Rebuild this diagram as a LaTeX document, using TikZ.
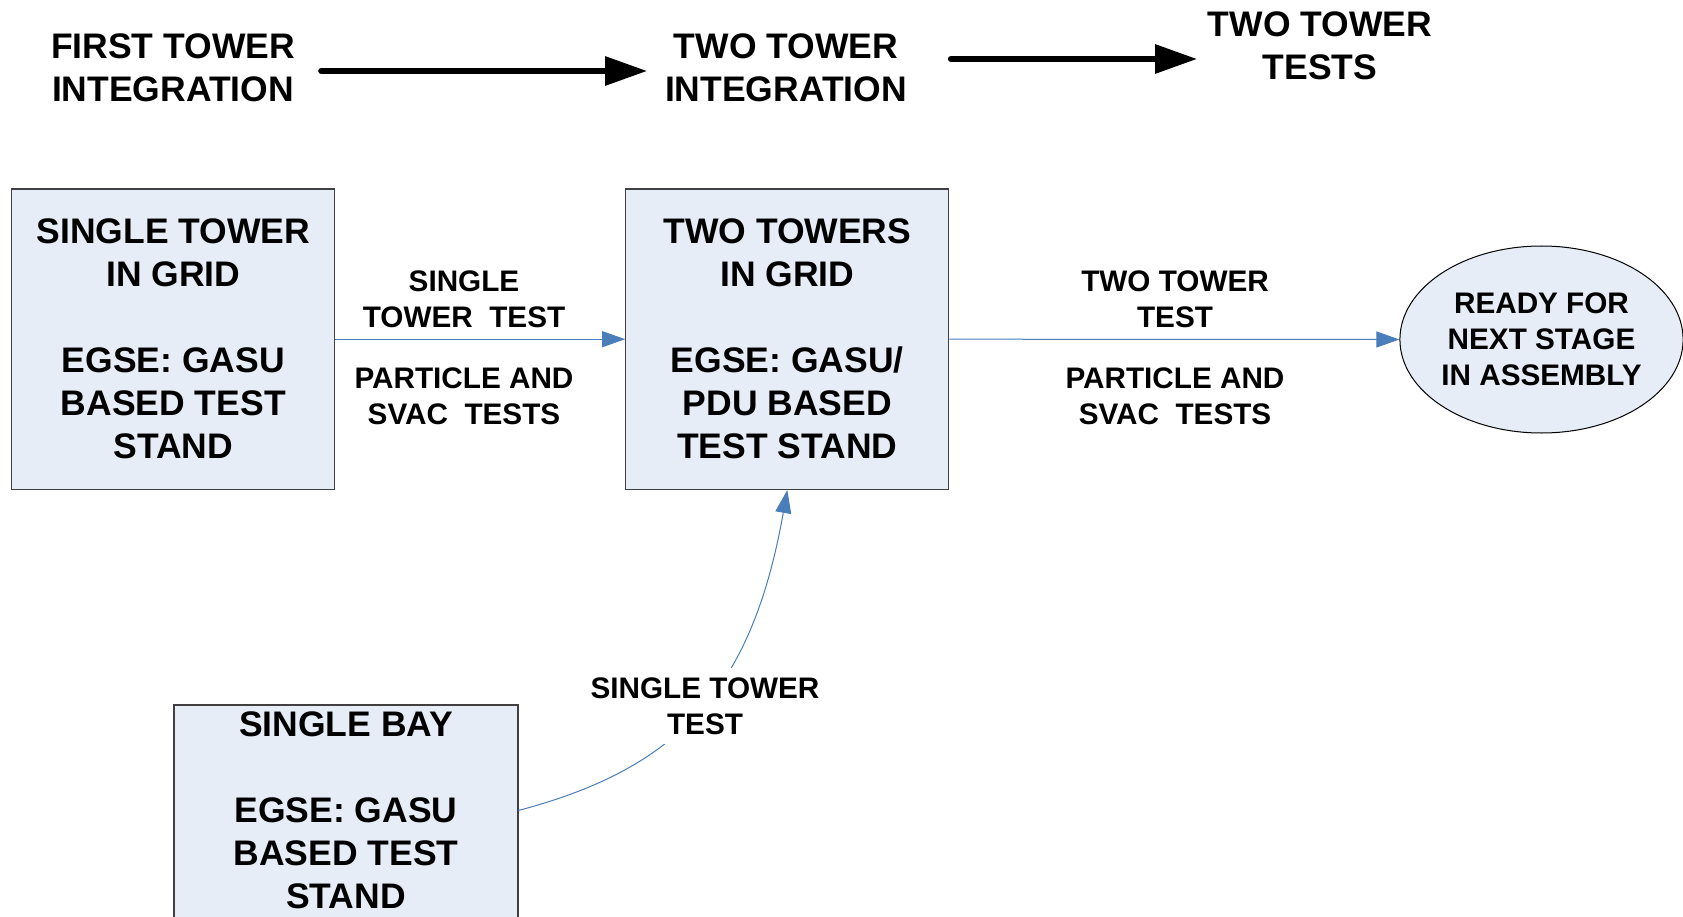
\documentclass[tikz,border=0pt]{standalone}
\usepackage{fontspec}
\setmainfont{Liberation Sans}
\usetikzlibrary{arrows.meta,shapes.geometric,calc}
\definecolor{boxfill}{RGB}{230,237,247}
\definecolor{boxline}{RGB}{64,64,64}
\definecolor{conn}{RGB}{74,126,187}
\newcommand\bigtxt{\fontsize{35.5}{43}\selectfont\bfseries}
\newcommand\smalltxt{\fontsize{29.7}{36}\selectfont\bfseries}
\begin{document}
\begin{tikzpicture}[x=1pt,y=1pt,
  stagebox/.style={draw=boxline, line width=1.2pt, fill=boxfill, minimum width=323pt,
    minimum height=300.5pt, inner sep=0pt, align=center, font=\bigtxt},
  toplabel/.style={align=center, font=\bigtxt, inner sep=0pt},
  edgelabel/.style={align=center, font=\smalltxt, inner sep=0pt},
  flow/.style={draw=conn, color=conn, line width=1pt, -{Triangle[length=23pt,width=16pt]}},
  bigarrow/.style={draw=black, line width=6pt, line cap=round, -{Triangle[length=42pt,width=28pt]}}]
\useasboundingbox (0,0) rectangle (1683,-917);
\clip (0,0) rectangle (1683,-917);
\fill[white] (0,0) rectangle (1683,-917);

% top row
\node[toplabel] (t1) at (173,-68) {FIRST TOWER\\INTEGRATION};
\node[toplabel] (t2) at (786,-68) {TWO TOWER\\INTEGRATION};
\node[toplabel] (t3) at (1320,-46) {TWO TOWER\\TESTS};
\draw[bigarrow] ($(t1.east)+(26,-3)$) -- ($(t2.west)+(-17.7,-3)$);
\draw[bigarrow] ($(t2.east)+(43.7,9)$) -- ($(t3.west)+(-10.6,-13)$);

% boxes
\node[stagebox] (b1) at (173.3,-339.2) {SINGLE TOWER\\IN GRID\\[43pt]EGSE: GASU\\BASED TEST\\STAND};
\node[stagebox] (b2) at (787.3,-339.2) {TWO TOWERS\\IN GRID\\[43pt]EGSE: GASU/\\PDU BASED\\TEST STAND};
\node[stagebox, minimum width=344pt, minimum height=300pt] (b3) at (346,-855) {};
\node[toplabel] (b3t) at (346,-810) {SINGLE BAY\\[43pt]EGSE: GASU\\BASED TEST\\STAND};
\node[ellipse, draw=black, line width=1pt, fill=boxfill, minimum width=279pt, minimum height=187pt,
  inner sep=0pt, align=center, font=\smalltxt] (ready) at (1541.5,-339.5) {READY FOR\\NEXT STAGE\\IN ASSEMBLY};

% connectors
\draw[flow] (b1.east) -- (b2.west);
\draw[flow] (b2.east) -- (ready.west);
\draw[flow] ($(b3.north east)+(0,-106)$) .. controls (679,-768) and (752,-689) .. (b2.south);

% labels
\node[edgelabel] (l1a) at (464,-299) {SINGLE\\TOWER\ \ TEST};
\node[edgelabel] (l1b) at (464,-396) {PARTICLE AND\\SVAC\ \ TESTS};
\node[edgelabel] (l2a) at (1175,-299) {TWO TOWER\\TEST};
\node[edgelabel] (l2b) at (1175,-396) {PARTICLE AND\\SVAC\ \ TESTS};
\node[edgelabel, fill=white, inner sep=9pt] (l3) at (705,-706) {SINGLE TOWER\\TEST};
\end{tikzpicture}
\end{document}
